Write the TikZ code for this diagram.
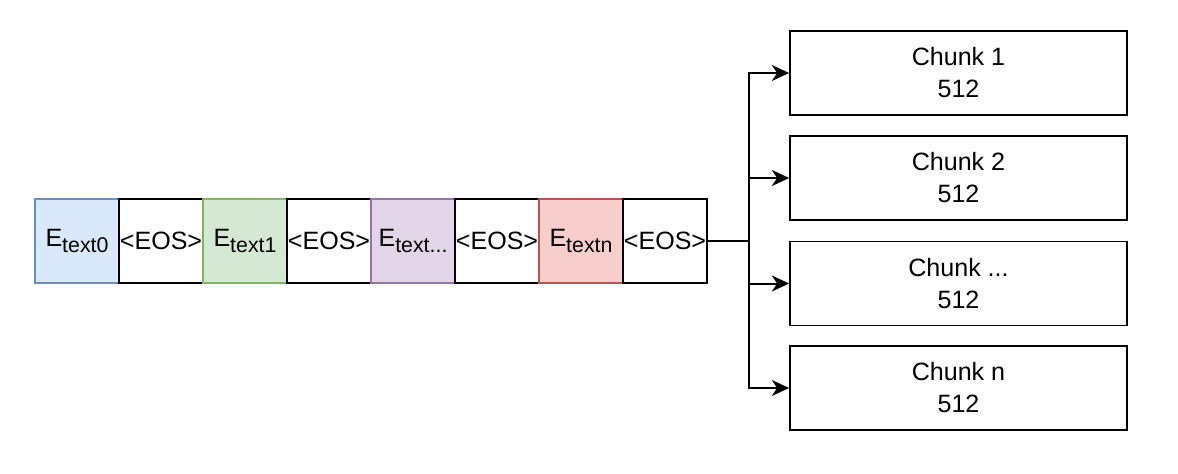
\documentclass[tikz,border=0pt]{standalone}
\usepackage{fontspec}
\setmainfont{Liberation Sans}
\usetikzlibrary{arrows.meta}
\definecolor{bfill}{HTML}{DAE8FC}\definecolor{bline}{HTML}{6C8EBF}
\definecolor{gfill}{HTML}{D5E8D4}\definecolor{gline}{HTML}{82B366}
\definecolor{pfill}{HTML}{E1D5E7}\definecolor{pline}{HTML}{9673A6}
\definecolor{rfill}{HTML}{F8CECC}\definecolor{rline}{HTML}{B85450}
\newcommand\Etxt[1]{E\raisebox{-5pt}{\fontsize{16}{18}\selectfont #1}}
\tikzset{
  cell/.style={draw, line width=1.3pt, minimum width=63pt, minimum height=63pt, inner sep=0pt, font=\fontsize{18.8}{22}\selectfont},
  chunkbox/.style={cell, minimum width=252.75pt, align=center, font=\fontsize{18.8}{24}\selectfont},
  conn/.style={line width=1.5pt},
  arr/.style={conn, -{Stealth[length=13pt, width=12pt, inset=4pt]}},
}
\begin{document}
\begin{tikzpicture}[x=0.75pt,y=-0.75pt]
\useasboundingbox (0,0) rectangle (1178,474);
\node[cell, fill=bfill, draw=bline] (e1) at (77,241) {\Etxt{text0}};
\node[cell] (e2) at (161,241) {<EOS>};
\node[cell, fill=gfill, draw=gline] (e3) at (245,241) {\Etxt{text1}};
\node[cell] (e4) at (329,241) {<EOS>};
\node[cell, fill=pfill, draw=pline] (e5) at (413,241) {\Etxt{text...}};
\node[cell] (e6) at (497,241) {<EOS>};
\node[cell, fill=rfill, draw=rline] (e7) at (581,241) {\Etxt{textn}};
\node[cell] (e8) at (665,241) {<EOS>};
\node[chunkbox] (c1) at (958.5,73) {Chunk 1\\512};
\node[chunkbox] (c2) at (958.5,178) {Chunk 2\\512};
\node[chunkbox] (c3) at (958.5,283.5) {Chunk ...\\512};
\node[chunkbox] (c4) at (958.5,388) {Chunk n\\512};
\coordinate (j) at (749,241);
\draw[conn] (e8.east) -- (j);
\draw[arr] (j) |- (c1.west);
\draw[arr] (j) |- (c2.west);
\draw[arr] (j) |- (c3.west);
\draw[arr] (j) |- (c4.west);
\end{tikzpicture}
\end{document}
